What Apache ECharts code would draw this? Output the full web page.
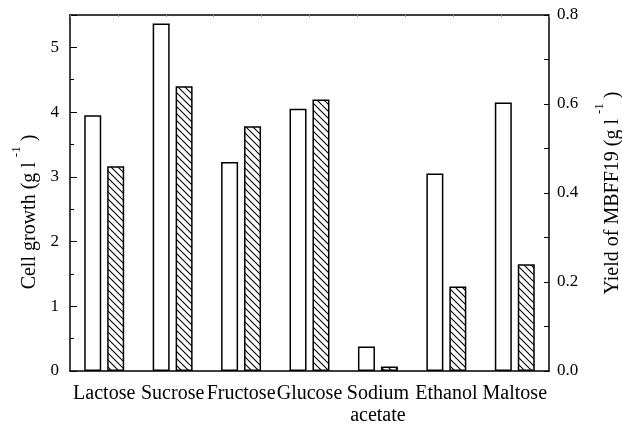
<!DOCTYPE html>
<html>
<head>
<meta charset="utf-8">
<script src="https://cdn.jsdelivr.net/npm/echarts@6/dist/echarts.min.js"></script>
<style>html,body{margin:0;padding:0;background:#fff}#c{width:622px;height:425px}</style>
</head>
<body>
<div id="c"></div>
<script>
var categories = ['Lactose', 'Sucrose', 'Fructose', 'Glucose', 'Sodium\nacetate', 'Ethanol', 'Maltose'];
var cellGrowth = [3.95, 5.37, 3.23, 4.05, 0.38, 3.05, 4.15];
var yieldMBFF19 = [0.46, 0.64, 0.55, 0.61, 0.01, 0.19, 0.24];
var leftTicks = [0, 1, 2, 3, 4, 5];
var rightTicks = ['0.0', '0.2', '0.4', '0.6', '0.8'];

function hatch() {
  var s = 7;
  var c = document.createElement('canvas');
  c.width = s; c.height = s;
  var g = c.getContext('2d');
  g.fillStyle = '#fff';
  g.fillRect(0, 0, s, s);
  g.strokeStyle = '#000';
  g.lineWidth = 1.1;
  g.beginPath();
  g.moveTo(-1, -1); g.lineTo(s + 1, s + 1);
  g.moveTo(-1, s - 1); g.lineTo(1, s + 1);
  g.moveTo(s - 1, -1); g.lineTo(s + 1, 1);
  g.stroke();
  return c;
}

var font = 'Liberation Serif';
var richTitle = {
  a: {fontFamily: font, fontSize: 20, lineHeight: 30, verticalAlign: 'bottom', color: '#000'},
  s: {fontFamily: font, fontSize: 13, lineHeight: 13, verticalAlign: 'top', color: '#000'}
};
var chart = echarts.init(document.getElementById('c'), null, {renderer: 'canvas'});
chart.setOption({
  backgroundColor: '#fff',
  animation: false,
  grid: {left: 70, right: 73, top: 15, bottom: 54, containLabel: false, outerBoundsMode: 'none'},
  xAxis: [{
    type: 'category',
    data: categories,
    position: 'bottom',
    axisLine: {lineStyle: {color: '#000', width: 1.5}},
    axisTick: {show: false},
    axisLabel: {color: '#000', fontFamily: font, fontSize: 20, margin: 12, lineHeight: 22, interval: 0}
  }, {
    type: 'value',
    position: 'top',
    min: 0, max: 10, interval: 1,
    axisLine: {show: true, onZero: false, lineStyle: {color: '#000', width: 1.5}},
    axisTick: {show: true, inside: true, length: 2, lineStyle: {color: '#999', width: 1}},
    axisLabel: {show: false},
    splitLine: {show: false}
  }],
  yAxis: [{
    type: 'value',
    position: 'left',
    min: 0, max: 5.5, interval: 1,
    name: '{a|Cell growth (g l }{s|-1}{a| )}',
    nameLocation: 'middle',
    nameGap: 28,
    nameRotate: 90,
    nameTextStyle: {color: '#000', padding: [0, 38, 0, 0], rich: richTitle},
    axisLine: {show: true, onZero: false, lineStyle: {color: '#000', width: 1.5}},
    axisTick: {show: true, inside: true, length: 7, lineStyle: {color: '#000', width: 1}},
    minorTick: {show: true, splitNumber: 2, length: 4, lineStyle: {color: '#000', width: 1}},
    axisLabel: {
      color: '#000', fontFamily: font, fontSize: 17, margin: 11, showMaxLabel: false,
      formatter: function (v) { var i = leftTicks.indexOf(v); return i >= 0 ? String(leftTicks[i]) : ''; }
    },
    splitLine: {show: false}
  }, {
    type: 'value',
    position: 'right',
    min: 0, max: 0.8, interval: 0.2,
    name: '{a|Yield of MBFF19 (g l }{s|-1}{a| )}',
    nameLocation: 'middle',
    nameGap: 44,
    nameRotate: 90,
    nameTextStyle: {color: '#000', rich: richTitle},
    axisLine: {show: true, onZero: false, lineStyle: {color: '#000', width: 1.5}},
    axisTick: {show: true, inside: true, length: 5, lineStyle: {color: '#000', width: 1}},
    minorTick: {show: true, splitNumber: 2, length: 5, lineStyle: {color: '#000', width: 1}},
    axisLabel: {
      color: '#000', fontFamily: font, fontSize: 17, margin: 8,
      formatter: function (v) { return rightTicks[Math.round(v / 0.2)]; }
    },
    splitLine: {show: false}
  }],
  series: [{
    name: 'Cell growth',
    type: 'bar',
    xAxisIndex: 0,
    yAxisIndex: 0,
    data: cellGrowth,
    barWidth: 17,
    barGap: '35%',
    itemStyle: {color: '#fff', borderColor: '#000', borderWidth: 1.5}
  }, {
    name: 'Yield of MBFF19',
    type: 'bar',
    xAxisIndex: 0,
    yAxisIndex: 1,
    data: yieldMBFF19,
    barWidth: 17,
    barGap: '35%',
    itemStyle: {color: {image: hatch(), repeat: 'repeat'}, borderColor: '#000', borderWidth: 1.5}
  }]
});
</script>
</body>
</html>
